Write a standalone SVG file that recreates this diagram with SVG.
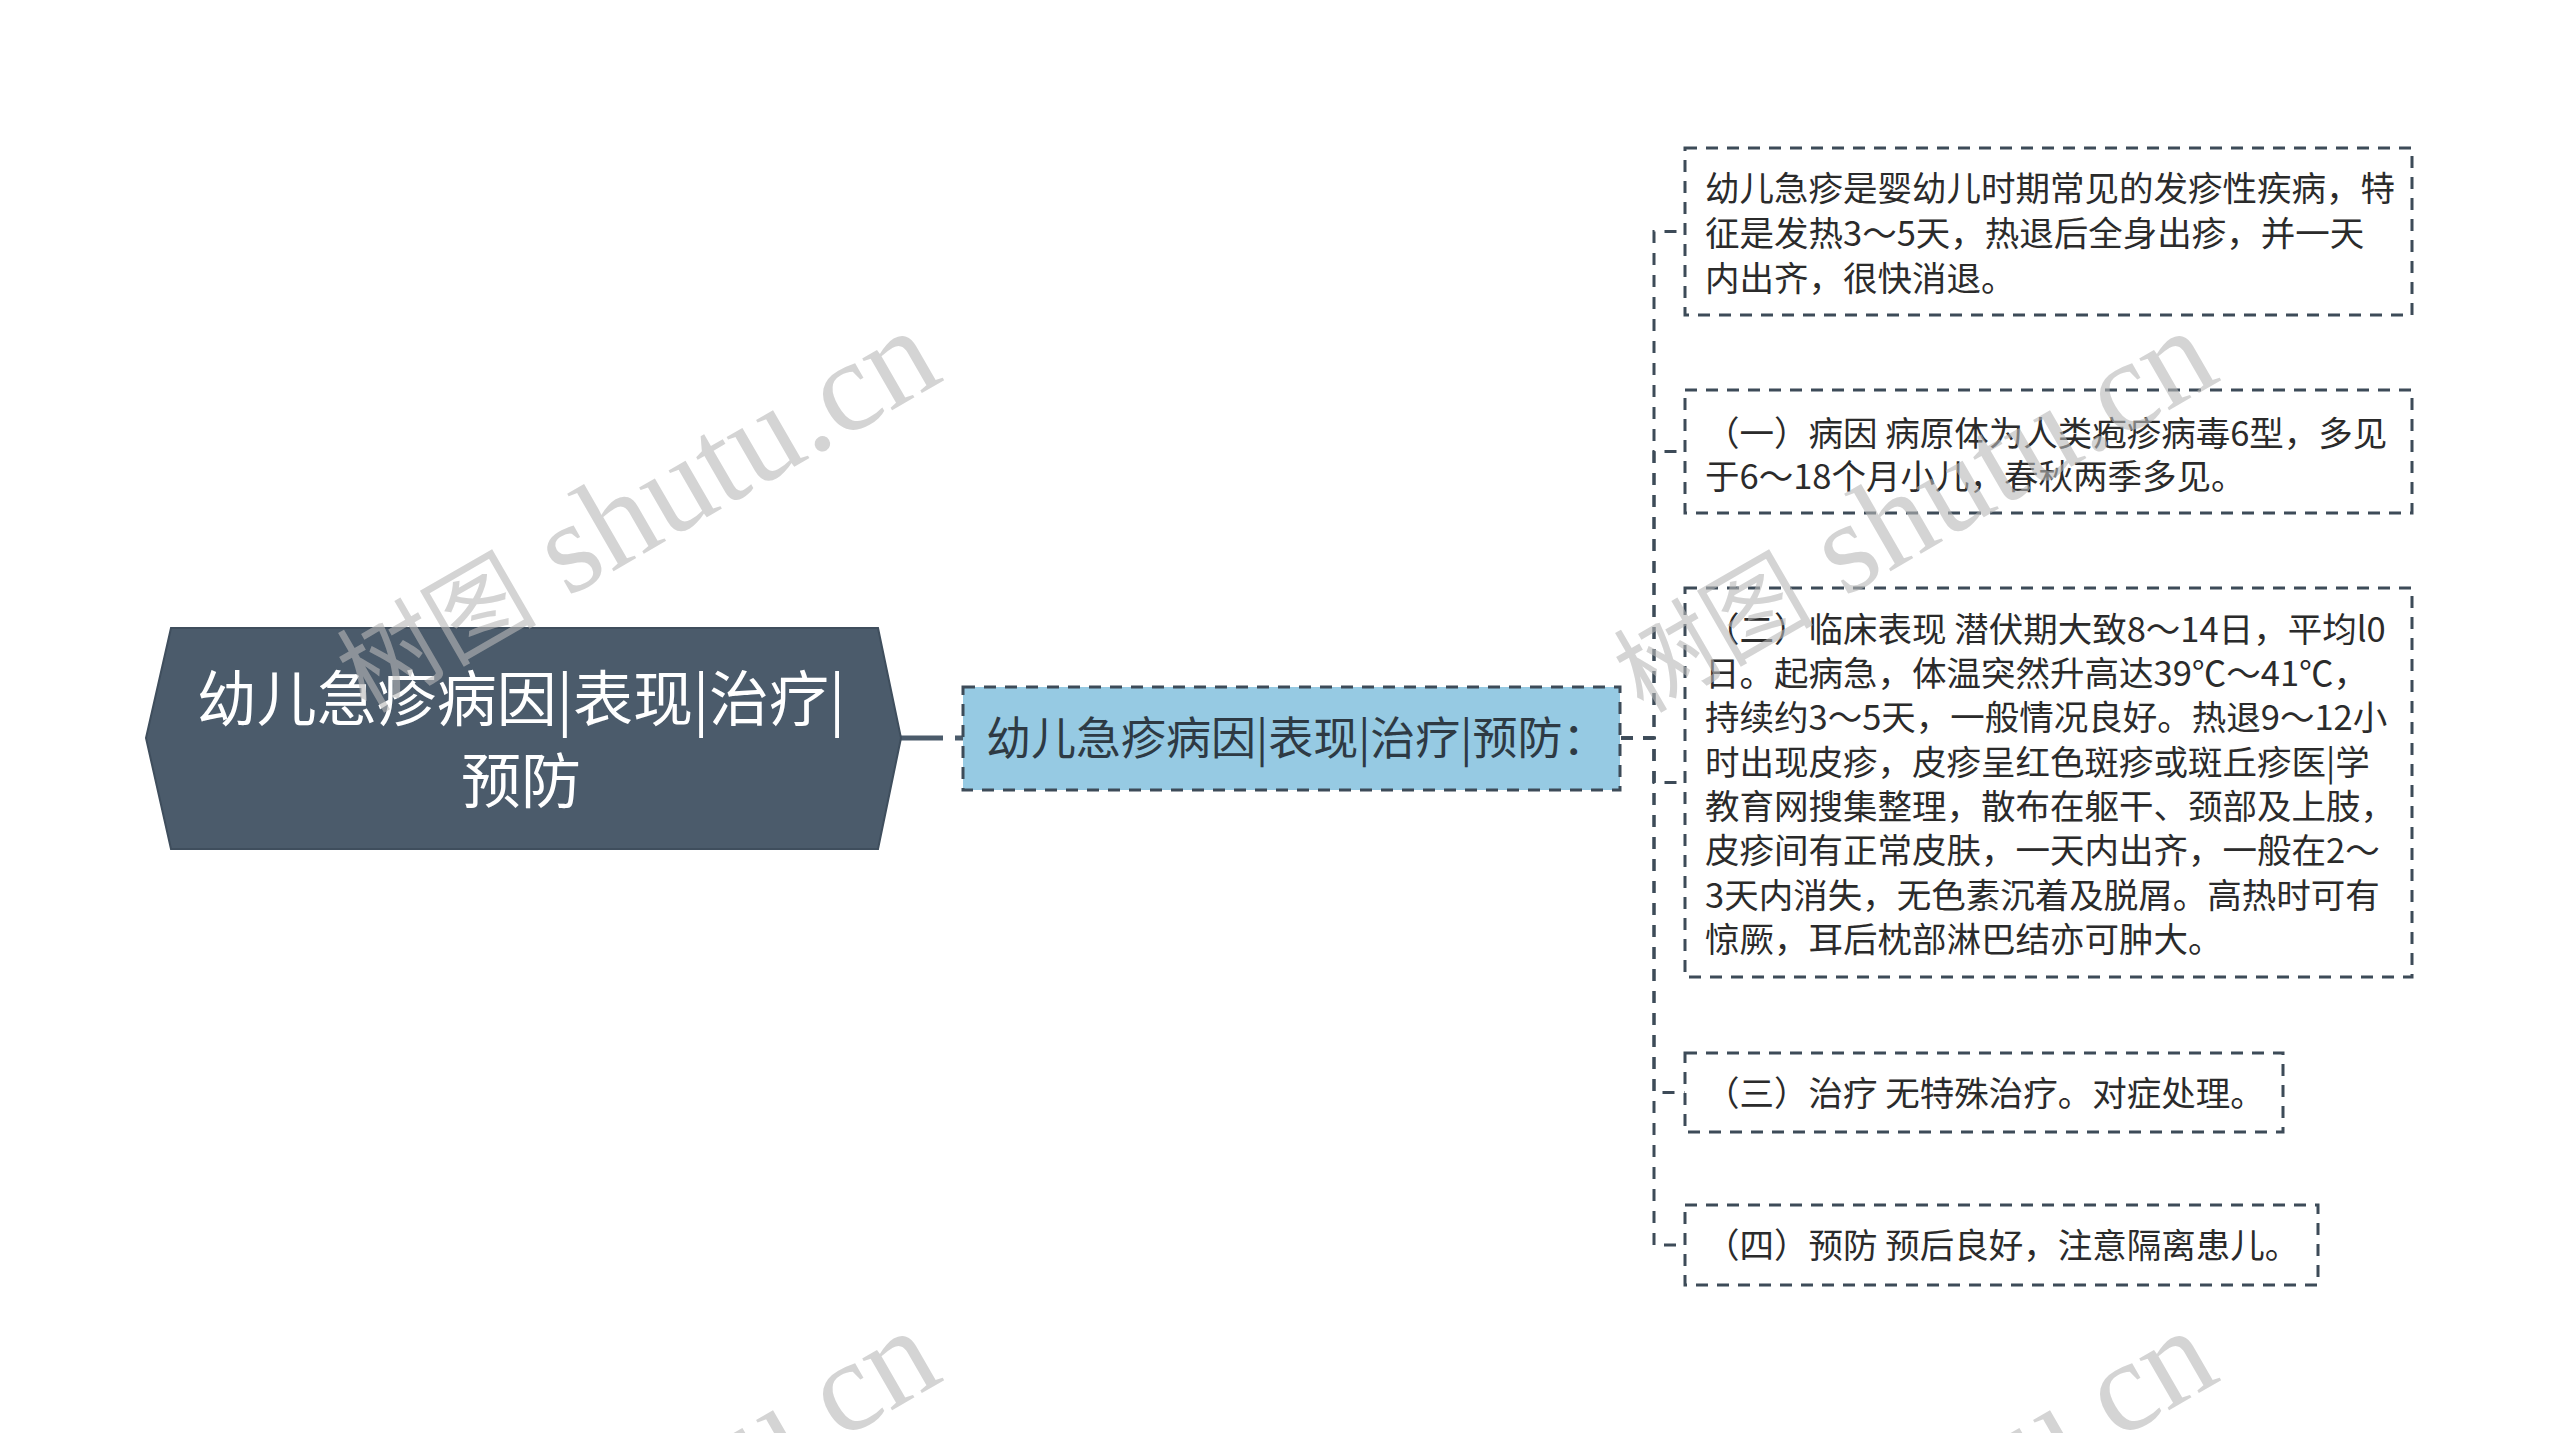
<svg xmlns="http://www.w3.org/2000/svg" width="2560" height="1433" viewBox="0 0 2560 1433">
<defs>
<style>
.bg{fill:#ffffff}
.root{fill:#4b5b6b;stroke:#3f4e5d;stroke-width:2}
.roottxt{font-family:"Noto Sans CJK SC","Liberation Sans",sans-serif;font-size:60px;fill:#ffffff;text-anchor:middle}
.mid{fill:#96cae3;stroke:#3d4b58;stroke-width:3;stroke-dasharray:12 9}
.midtxt{font-family:"Noto Sans CJK SC","Liberation Sans",sans-serif;font-size:45px;fill:#2e3a44}
.leaf{fill:#ffffff;stroke:#3d4b58;stroke-width:3;stroke-dasharray:12 9}
.leaftxt{font-family:"Noto Sans CJK SC","Liberation Sans",sans-serif;font-size:34.5px;fill:#2b2b2b}
.conn{fill:none;stroke:#3d4b58;stroke-width:3;stroke-dasharray:12 10}
.rootconn{fill:none;stroke:#4b5b6b;stroke-width:5;stroke-dasharray:42 12}
.wm{font-family:"Liberation Serif","Noto Sans CJK SC",serif;font-size:130px;fill:#b8b8b8;opacity:0.6}
.wmcjk{font-size:100px}
</style>
</defs>
<rect class="bg" x="0" y="0" width="2560" height="1433"/>
<g id="connectors">
<path class="rootconn" d="M901 738 H963"/>
<path class="conn" d="M1621 738 H1654 V231.5 H1685"/>
<path class="conn" d="M1621 738 H1654 V451.5 H1685"/>
<path class="conn" d="M1621 738 H1654 V782.5 H1685"/>
<path class="conn" d="M1621 738 H1654 V1092.5 H1685"/>
<path class="conn" d="M1621 738 H1654 V1245 H1685"/>
</g>
<g id="node-root">
<polygon class="root" points="146,738 171,628 878,628 901,738 878,849 171,849"/>
<text class="roottxt" x="521" y="721">幼儿急疹病因|表现|治疗|</text>
<text class="roottxt" x="521" y="803">预防</text>
</g>
<g id="node-main">
<rect class="mid" x="963" y="687" width="657" height="103"/>
<text class="midtxt" x="986" y="755">幼儿急疹病因|表现|治疗|预防：</text>
</g>
<g id="node-intro">
<rect class="leaf" x="1685" y="148" width="727" height="167"/>
<text class="leaftxt" x="1705" y="201">幼儿急疹是婴幼儿时期常见的发疹性疾病，特</text>
<text class="leaftxt" x="1705" y="246">征是发热3～5天，热退后全身出疹，并一天</text>
<text class="leaftxt" x="1705" y="291">内出齐，很快消退。</text>
</g>
<g id="node-cause">
<rect class="leaf" x="1685" y="390" width="727" height="123"/>
<text class="leaftxt" x="1705" y="446">（一）病因 病原体为人类疱疹病毒6型，多见</text>
<text class="leaftxt" x="1705" y="489">于6～18个月小儿，春秋两季多见。</text>
</g>
<g id="node-clinical">
<rect class="leaf" x="1685" y="588" width="727" height="389"/>
<text class="leaftxt" x="1705" y="642">（二）临床表现 潜伏期大致8～14日，平均l0</text>
<text class="leaftxt" x="1705" y="686">日。起病急，体温突然升高达39℃～41℃，</text>
<text class="leaftxt" x="1705" y="730">持续约3～5天，一般情况良好。热退9～12小</text>
<text class="leaftxt" x="1705" y="775">时出现皮疹，皮疹呈红色斑疹或斑丘疹医|学</text>
<text class="leaftxt" x="1705" y="819">教育网搜集整理，散布在躯干、颈部及上肢，</text>
<text class="leaftxt" x="1705" y="863">皮疹间有正常皮肤，一天内出齐，一般在2～</text>
<text class="leaftxt" x="1705" y="908">3天内消失，无色素沉着及脱屑。高热时可有</text>
<text class="leaftxt" x="1705" y="952">惊厥，耳后枕部淋巴结亦可肿大。</text>
</g>
<g id="node-treatment">
<rect class="leaf" x="1685" y="1053" width="598" height="79"/>
<text class="leaftxt" x="1705" y="1106">（三）治疗 无特殊治疗。对症处理。</text>
</g>
<g id="node-prevention">
<rect class="leaf" x="1685" y="1205" width="633" height="80"/>
<text class="leaftxt" x="1705" y="1258">（四）预防 预后良好，注意隔离患儿。</text>
</g>
<g id="watermarks">
<text class="wm" transform="translate(366,714) rotate(-30)"><tspan class="wmcjk">树图</tspan> shutu.cn</text>
<text class="wm" transform="translate(1643,714) rotate(-30)"><tspan class="wmcjk">树图</tspan> shutu.cn</text>
<text class="wm" transform="translate(366,1714) rotate(-30)"><tspan class="wmcjk">树图</tspan> shutu.cn</text>
<text class="wm" transform="translate(1643,1714) rotate(-30)"><tspan class="wmcjk">树图</tspan> shutu.cn</text>
</g>
</svg>
